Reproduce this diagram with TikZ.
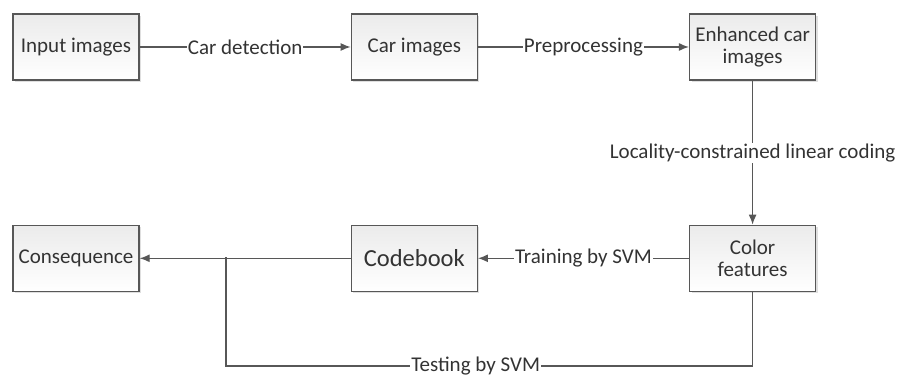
\documentclass[tikz,border=0pt]{standalone}
\usepackage{fontspec}
\setmainfont{Carlito}
\usetikzlibrary{positioning,calc}
\usetikzlibrary{arrows.meta,shadows}
\definecolor{linegray}{HTML}{575757}
\definecolor{boxtop}{HTML}{EBEBEB}
\definecolor{txtgray}{HTML}{333333}
\tikzset{%
  % Specifications for style of nodes:
    >={Latex[width=8pt,length=10pt]},
    stage/.style={draw=linegray, line width=1.3pt, minimum width=126pt, minimum height=66pt,
      top color=boxtop, bottom color=white, align=center, inner sep=2pt, text=txtgray,
      font=\fontsize{21}{22}\selectfont,
      drop shadow={opacity=0.25, shadow xshift=2pt, shadow yshift=-2pt}},
    lbl/.style={fill=white, inner sep=1pt, text=txtgray, font=\fontsize{21}{22}\selectfont},
    flow/.style={draw=linegray, line width=1.3pt},
}

\begin{document}
\begin{tikzpicture}[x=1pt, y=1pt, node distance=211pt]
    \useasboundingbox (0,0) rectangle (898,377);
    % top row
    \node[stage] (input) at (76,330) {Input images};
    \node[stage, right=of input] (carimg) {Car images};
    \node[stage, right=of carimg] (enh) {Enhanced car\\images};
    % bottom row
    \node[stage, below=144pt of enh] (color) {Color\\features};
    \node[stage, left=of color, font=\fontsize{24.5}{26}\selectfont] (code) {Codebook};
    \node[stage, left=of code] (cons) {Consequence};
    % branch points of the testing path
    \coordinate (split) at (226,120);
    \coordinate (turn) at (226,11);

    \draw[flow,->] (input) -- node[lbl] {Car detection} (carimg);
    \draw[flow,->] (carimg) -- node[lbl] {Preprocessing} (enh);
    \draw[flow,->] (enh) -- node[lbl] {Locality-constrained linear coding} (color);
    \draw[flow,->] (color) -- node[lbl] {Training by SVM} (code);
    \draw[flow,->] (code) -- (cons);
    \draw[flow] (color.south) |- node[lbl, pos=0.763] {Testing by SVM} (turn) -- (split);
\end{tikzpicture}
\end{document}
